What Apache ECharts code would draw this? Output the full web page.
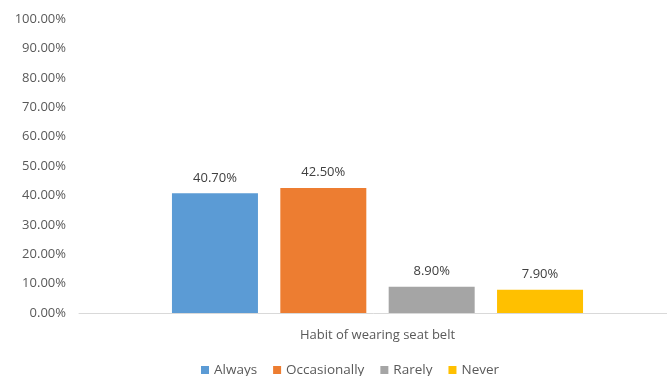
<!DOCTYPE html>
<html><head><meta charset="utf-8">
<script src="https://cdn.jsdelivr.net/npm/echarts@6/dist/echarts.min.js"></script>
<style>html,body{margin:0;padding:0;background:#fff}#c{width:667px;height:376px}</style>
</head><body><div id="c"></div>
<script>
var categories = ['Habit of wearing seat belt'];
var seriesNames = ['Always', 'Occasionally', 'Rarely', 'Never'];
var values = [40.7, 42.5, 8.9, 7.9];
var colors = ['#5B9BD5', '#ED7D31', '#A5A5A5', '#FFC000'];
var font = '"Open Sans", "Liberation Sans", sans-serif';
var chart = echarts.init(document.getElementById('c'));
chart.setOption({
  animation: false,
  grid: {left: 79, width: 597, top: 19, bottom: 63, outerBoundsMode: 'none', containLabel: false},
  legend: {
    left: 196, top: 363, padding: [0, 5], itemWidth: 8, itemHeight: 8, itemGap: 16, icon: 'rect',
    textStyle: {color: '#595959', fontSize: 13.5, fontFamily: font},
    data: seriesNames
  },
  xAxis: {
    type: 'category', data: categories,
    axisLine: {lineStyle: {color: '#D9D9D9', width: 1}},
    axisTick: {show: false},
    axisLabel: {color: '#595959', fontSize: 13, fontFamily: font, margin: 16}
  },
  yAxis: {
    type: 'value', min: 0, max: 100, interval: 10,
    splitLine: {show: false}, axisLine: {show: false}, axisTick: {show: false},
    axisLabel: {color: '#595959', fontSize: 13, fontFamily: font, margin: 13,
      formatter: function(v){return v.toFixed(2) + '%';}}
  },
  series: seriesNames.map(function(n, i){
    return {
      name: n, type: 'bar', data: [values[i]], barWidth: 86, barGap: '26%',
      itemStyle: {color: colors[i]},
      label: {show: true, position: 'top', distance: 9, color: '#404040', fontSize: 13, fontFamily: font,
        formatter: function(p){return p.value.toFixed(2) + '%';}}
    };
  })
});
</script></body></html>
